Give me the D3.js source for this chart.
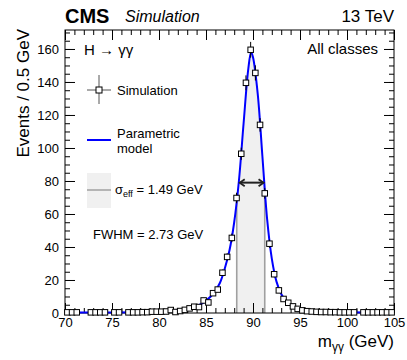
<!DOCTYPE html>
<html>
<head>
<meta charset="utf-8">
<script src="https://cdn.jsdelivr.net/npm/d3@7"></script>
<style>
  body { margin: 0; background: #fff; }
  svg { font-family: "Liberation Sans", Arial, sans-serif; }
</style>
</head>
<body>
<svg></svg>
<script>
// simulated diphoton mass spectrum, 0.5 GeV bins (null = empty bin)
var binCenters = [70.25, 70.75, 71.25, 71.75, 72.25, 72.75, 73.25, 73.75, 74.25, 74.75,
  75.25, 75.75, 76.25, 76.75, 77.25, 77.75, 78.25, 78.75, 79.25, 79.75,
  80.25, 80.75, 81.25, 81.75, 82.25, 82.75, 83.25, 83.75, 84.25, 84.75,
  85.25, 85.75, 86.25, 86.75, 87.25, 87.75, 88.25, 88.75, 89.25, 89.75,
  90.25, 90.75, 91.25, 91.75, 92.25, 92.75, 93.25, 93.75, 94.25, 94.75,
  95.25, 95.75, 96.25, 96.75, 97.25, 97.75, 98.25, 98.75, 99.25, 99.75,
  100.25, 100.75, 101.25, 101.75, 102.25, 102.75, 103.25, 103.75, 104.25, 104.75];
var simValues = [0.4, 0.4, 0.4, null, null, 0.4, 0.4, 0.4, 0.4, null,
  0.4, 0.4, null, 0.4, 0.4, 0.4, 0.5, 0.5, 0.8, 0.8,
  0.8, 0.9, 1.8, 0.6, 1.2, 1.9, 2.8, 3.8, 3.6, 7.6,
  6.4, 12, 14.2, 24.4, 34, 45.5, 69.7, 96.5, 139.5, 159.5,
  145.5, 114, 72.5, 42, 23.5, 13.7, 8.5, 6.2, 4, 2.5,
  1.6, 1.1, 0.9, 0.7, 0.6, 0.6, 0.5, 0.5, 0.4, 0.4,
  0.4, 0.4, null, 0.4, 0.4, 0.4, 0.4, 0.4, 0.4, 0.4];
var simErrors = [0.25, 0.25, 0.25, 0, 0, 0.25, 0.25, 0.25, 0.25, 0,
  0.25, 0.25, 0, 0.25, 0.25, 0.25, 0.27, 0.27, 0.35, 0.35,
  0.35, 0.36, 0.5, 0.3, 0.42, 0.52, 0.64, 0.75, 0.72, 1.05,
  0.96, 1.3, 1.45, 1.9, 2.2, 2.6, 3.2, 3.7, 4.5, 4.8,
  4.6, 4.1, 3.2, 2.5, 1.85, 1.4, 1.1, 0.95, 0.75, 0.6,
  0.5, 0.4, 0.36, 0.32, 0.3, 0.3, 0.27, 0.27, 0.25, 0.25,
  0.25, 0.25, 0, 0.25, 0.25, 0.25, 0.25, 0.25, 0.25, 0.25];

// parametric model
var modelMass = [70, 75, 78, 80, 81, 82, 83, 84, 84.5, 85, 85.5, 86, 86.5, 87, 87.5,
  88, 88.5, 89, 89.5, 89.8, 90, 90.5, 91, 91.5, 92, 92.5, 93, 93.5, 94, 94.5,
  95, 96, 97, 98, 100, 105];
var modelValues = [0.3, 0.35, 0.5, 0.8, 1.1, 1.6, 2.5, 4.2, 5.5, 7.5, 10, 13.5, 18.5, 27, 38,
  55, 80, 115, 148, 158, 155, 133, 95, 57, 33, 19, 11.5, 7.5, 5, 3.5,
  2.4, 1.3, 0.8, 0.6, 0.4, 0.3];

var sigmaEffRange = [88.27, 91.25];
var fwhmRange = [88.48, 91.23];
var halfMax = 79;

var xTicks = [70, 75, 80, 85, 90, 95, 100, 105];
var yTicks = [0, 20, 40, 60, 80, 100, 120, 140, 160];

var W = 407, H = 360;
var m = {left: 65, right: 13, top: 30, bottom: 47};

var svg = d3.select("svg").attr("width", W).attr("height", H);

var x = d3.scaleLinear().domain([70, 105]).range([m.left, W - m.right]);
var y = d3.scaleLinear().domain([0, 171.5]).range([H - m.bottom, m.top]);

var modelPts = modelMass.map(function(d, i) { return [d, modelValues[i]]; });

var area = d3.area()
    .x(function(d) { return x(d[0]); })
    .y0(y(0))
    .y1(function(d) { return y(d[1]); })
    .curve(d3.curveCatmullRom);

var line = d3.line()
    .x(function(d) { return x(d[0]); })
    .y(function(d) { return y(d[1]); })
    .curve(d3.curveCatmullRom);

var defs = svg.append("defs");
defs.append("clipPath").attr("id", "band")
  .append("rect")
    .attr("x", x(sigmaEffRange[0])).attr("y", m.top)
    .attr("width", x(sigmaEffRange[1]) - x(sigmaEffRange[0]))
    .attr("height", y(0) - m.top);
defs.append("clipPath").attr("id", "under")
  .append("path").attr("d", area(modelPts));

// sigma_eff band under the curve
svg.append("path")
    .attr("d", area(modelPts))
    .attr("clip-path", "url(#band)")
    .attr("fill", "#f0f0f0");

svg.append("g").attr("clip-path", "url(#under)")
  .selectAll("line").data(sigmaEffRange).enter().append("line")
    .attr("x1", function(d) { return x(d); })
    .attr("x2", function(d) { return x(d); })
    .attr("y1", y(0)).attr("y2", m.top)
    .attr("stroke", "#a0a0a0").attr("stroke-width", 1.6);

// axes: ticks drawn inward on all four sides
function styleAxis(g) {
  g.select(".domain").remove();
  g.selectAll(".tick line").attr("stroke", "#000");
  g.selectAll("text").attr("font-size", 13).attr("fill", "#000");
}

svg.append("g").attr("transform", "translate(0," + y(0) + ")")
    .call(d3.axisBottom(x).ticks(35).tickSize(-5).tickFormat(""))
    .call(styleAxis);
svg.append("g").attr("transform", "translate(0," + y(0) + ")")
    .call(d3.axisBottom(x).tickValues(xTicks).tickSize(-10).tickPadding(5).tickFormat(d3.format("d")))
    .call(styleAxis);
svg.append("g").attr("transform", "translate(0," + m.top + ")")
    .call(d3.axisTop(x).ticks(35).tickSize(-5).tickFormat(""))
    .call(styleAxis);
svg.append("g").attr("transform", "translate(0," + m.top + ")")
    .call(d3.axisTop(x).tickValues(xTicks).tickSize(-10).tickFormat(""))
    .call(styleAxis);

var yMinor = d3.range(0, 171, 5);
svg.append("g").attr("transform", "translate(" + m.left + ",0)")
    .call(d3.axisLeft(y).tickValues(yMinor).tickSize(-5).tickFormat(""))
    .call(styleAxis);
svg.append("g").attr("transform", "translate(" + m.left + ",0)")
    .call(d3.axisLeft(y).tickValues(yTicks).tickSize(-10).tickPadding(6))
    .call(styleAxis);
svg.append("g").attr("transform", "translate(" + (W - m.right) + ",0)")
    .call(d3.axisRight(y).tickValues(yMinor).tickSize(-5).tickFormat(""))
    .call(styleAxis);
svg.append("g").attr("transform", "translate(" + (W - m.right) + ",0)")
    .call(d3.axisRight(y).tickValues(yTicks).tickSize(-10).tickFormat(""))
    .call(styleAxis);

svg.append("rect")
    .attr("x", m.left).attr("y", m.top)
    .attr("width", W - m.right - m.left).attr("height", y(0) - m.top)
    .attr("fill", "none").attr("stroke", "#000").attr("stroke-width", 1);

// model curve
svg.append("path")
    .attr("d", line(modelPts))
    .attr("fill", "none")
    .attr("stroke", "#0000ff")
    .attr("stroke-width", 2);

// FWHM arrow
var arrowY = y(halfMax);
svg.append("line")
    .attr("x1", x(fwhmRange[0]) + 1).attr("x2", x(fwhmRange[1]) - 1)
    .attr("y1", arrowY).attr("y2", arrowY)
    .attr("stroke", "#222").attr("stroke-width", 2);
fwhmRange.forEach(function(d, i) {
  var tip = x(d) + (i == 0 ? 1 : -1), s = (i == 0 ? 1 : -1);
  svg.append("path")
      .attr("d", "M" + (tip + 5 * s) + "," + (arrowY - 3.5) + "L" + tip + "," + arrowY + "L" + (tip + 5 * s) + "," + (arrowY + 3.5))
      .attr("fill", "none").attr("stroke", "#222").attr("stroke-width", 1.8);
});

// simulated points
var pts = binCenters.map(function(c, i) { return {m: c, v: simValues[i], e: simErrors[i]}; })
    .filter(function(d) { return d.v !== null; });

var pg = svg.append("g").attr("stroke", "#000").attr("fill", "none");
pg.selectAll(".err").data(pts).enter().append("line")
    .attr("class", "err")
    .attr("x1", function(d) { return x(d.m); })
    .attr("x2", function(d) { return x(d.m); })
    .attr("y1", function(d) { return y(d.v - d.e); })
    .attr("y2", function(d) { return y(d.v + d.e); })
    .attr("stroke-width", 1);
pg.selectAll(".xerr").data(pts).enter().append("line")
    .attr("class", "xerr")
    .attr("x1", function(d) { return x(d.m - 0.25); })
    .attr("x2", function(d) { return x(d.m + 0.25); })
    .attr("y1", function(d) { return y(d.v); })
    .attr("y2", function(d) { return y(d.v); })
    .attr("stroke-width", 1);
pg.selectAll(".pt").data(pts).enter().append("rect")
    .attr("class", "pt")
    .attr("x", function(d) { return x(d.m) - 2.75; })
    .attr("y", function(d) { return y(d.v) - 2.75; })
    .attr("width", 5.5).attr("height", 5.5)
    .attr("fill", "#fff").attr("stroke-width", 1);

// legend
var leg = svg.append("g");
leg.append("line").attr("x1", 87).attr("x2", 111).attr("y1", 90).attr("y2", 90).attr("stroke", "#555");
leg.append("line").attr("x1", 99).attr("x2", 99).attr("y1", 75).attr("y2", 104).attr("stroke", "#555");
leg.append("rect").attr("x", 96).attr("y", 87).attr("width", 6).attr("height", 6)
    .attr("fill", "#fff").attr("stroke", "#000");
leg.append("text").attr("x", 117).attr("y", 95).attr("font-size", 13).text("Simulation");

leg.append("line").attr("x1", 87).attr("x2", 111).attr("y1", 140).attr("y2", 140)
    .attr("stroke", "#0000ff").attr("stroke-width", 2);
leg.append("text").attr("x", 117).attr("y", 138).attr("font-size", 13).text("Parametric");
leg.append("text").attr("x", 117).attr("y", 152.5).attr("font-size", 13).text("model");

leg.append("rect").attr("x", 87).attr("y", 173).attr("width", 24).attr("height", 35).attr("fill", "#f0f0f0");
leg.append("line").attr("x1", 87).attr("x2", 111).attr("y1", 190).attr("y2", 190)
    .attr("stroke", "#a0a0a0").attr("stroke-width", 1.5);
var st = leg.append("text").attr("x", 115).attr("y", 194).attr("font-size", 13);
st.append("tspan").text("σ");
st.append("tspan").attr("font-size", 9).attr("dy", 3).text("eff");
st.append("tspan").attr("dy", -3).text(" = 1.49 GeV");

leg.append("text").attr("x", 93).attr("y", 239).attr("font-size", 13).text("FWHM = 2.73 GeV");

// labels
svg.append("text").attr("x", 84).attr("y", 55).attr("font-size", 15).text("H → γγ");
svg.append("text").attr("x", 378).attr("y", 54).attr("text-anchor", "end").attr("font-size", 15).text("All classes");

svg.append("text").attr("x", 65).attr("y", 22.5).attr("font-size", 20).attr("font-weight", "bold").text("CMS");
svg.append("text").attr("x", 125).attr("y", 22).attr("font-size", 16).attr("font-style", "italic").text("Simulation");
svg.append("text").attr("x", 394).attr("y", 22).attr("text-anchor", "end").attr("font-size", 17).text("13 TeV");

var xt = svg.append("text").attr("x", 394).attr("y", 347).attr("text-anchor", "end").attr("font-size", 17);
xt.append("tspan").text("m");
xt.append("tspan").attr("font-size", 12).attr("dy", 4).text("γγ");
xt.append("tspan").attr("dy", -4).text(" (GeV)");

svg.append("text")
    .attr("transform", "translate(29,29) rotate(-90)")
    .attr("text-anchor", "end")
    .attr("font-size", 17)
    .text("Events / 0.5 GeV");
</script>
</body>
</html>
